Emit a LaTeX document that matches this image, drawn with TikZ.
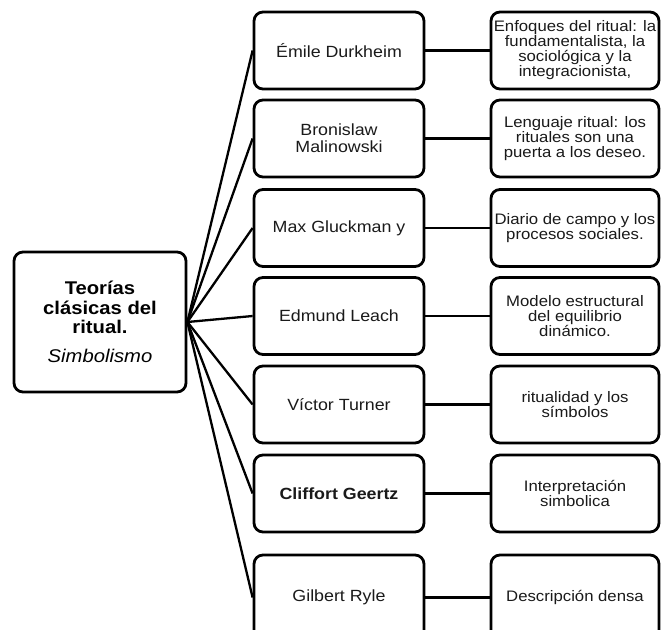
\documentclass[tikz,border=0pt]{standalone}
\usepackage{fontspec}
\setmainfont{Liberation Sans}[FakeStretch=1.1]
\definecolor{ink}{HTML}{1A1A1A}
\begin{document}
\begin{tikzpicture}[x=1pt,y=-1pt,
  boxbase/.style={draw=black, line width=2.8pt, rounded corners=9pt,
    inner sep=0pt, align=center, text=ink},
  rootbox/.style={boxbase, minimum width=172pt, minimum height=140pt,
    text=black, font=\fontsize{18.4pt}{19.5pt}\selectfont},
  authorbox/.style={boxbase, minimum width=170pt, minimum height=77pt,
    font=\fontsize{16.2pt}{17pt}\selectfont},
  ideabox/.style={boxbase, minimum width=168pt, minimum height=77pt,
    font=\fontsize{15.2pt}{15pt}\selectfont},
  link/.style={draw=black, line width=2.3pt}]
\useasboundingbox (0,0) rectangle (661,629);
\clip (0,0) rectangle (661,629);
\fill[white] (0,0) rectangle (661,629);

% root of the map
\node[rootbox] (root) at (100,322)
  {\textbf{Teorías}\\\textbf{clásicas del}\\\textbf{ritual.}\\[9pt]\textit{Simbolismo}};

% authors
\node[authorbox] (a1) at (339,50.5) {Émile Durkheim};
\node[authorbox] (a2) at (339,138.5) {Bronislaw\\Malinowski};
\node[authorbox] (a3) at (339,228) {Max Gluckman y};
\node[authorbox] (a4) at (339,316) {Edmund Leach};
\node[authorbox] (a5) at (339,404.5) {Víctor Turner};
\node[authorbox] (a6) at (339,493.5) {\textbf{Cliffort Geertz}};
\node[authorbox, minimum height=85pt] (a7) at (339,597.5) {Gilbert Ryle};

% key ideas
\node[ideabox] (b1) at (575,50.5)
  {Enfoques del ritual: la\\fundamentalista, la\\sociológica y la\\integracionista,};
\node[ideabox] (b2) at (575,138.5)
  {Lenguaje ritual: los\\rituales son una\\puerta a los deseo.};
\node[ideabox] (b3) at (575,228) {Diario de campo y los\\procesos sociales.};
\node[ideabox] (b4) at (575,316) {Modelo estructural\\del equilibrio\\dinámico.};
\node[ideabox] (b5) at (575,404.5) {ritualidad y los\\símbolos};
\node[ideabox] (b6) at (575,493.5) {Interpretación\\simbolica};
\node[ideabox, minimum height=85pt] (b7) at (575,597.5) {Descripción densa};

% connectors
\foreach \i in {1,...,7} {
  \draw[link] (root.east) -- (a\i.west);
  \draw[link] (a\i.east) -- (b\i.west);
}
\end{tikzpicture}
\end{document}
